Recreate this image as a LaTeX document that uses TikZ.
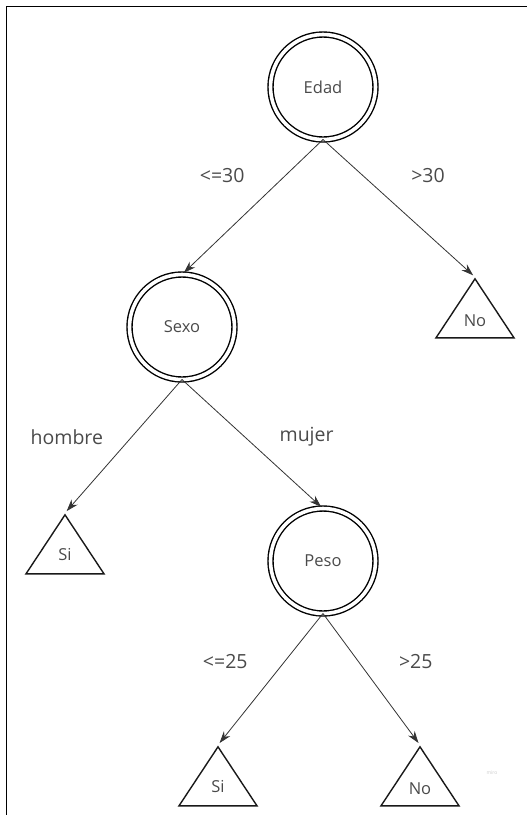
\documentclass[tikz,border=0pt]{standalone}
\usepackage{fontspec}
\setmainfont{Open Sans}
\usetikzlibrary{shapes.geometric, arrows.meta}

\definecolor{edgegray}{HTML}{333333}
\definecolor{textgray}{HTML}{4A4A4A}

\begin{document}
\begin{tikzpicture}[x=10pt, y=-10pt]
\tikzstyle{decision}=[circle, draw=black, line width=1.4pt, double=white, double distance=3.6pt, minimum size=105pt, inner sep=0pt, outer sep=0pt, text=textgray, font=\fontsize{16.5}{18}\selectfont];
\tikzstyle{leaf}=[isosceles triangle, shape border rotate=90, isosceles triangle stretches, draw=black!90, line width=1.4pt, minimum width=78pt, minimum height=59pt, inner sep=0pt, anchor=apex, text=textgray, font=\fontsize{16.5}{18}\selectfont];
\tikzstyle{cond}=[text=textgray, font=\fontsize{19.5}{21}\selectfont];
\tikzstyle{arrow}=[-{Stealth[length=12pt, width=8pt]}, draw=edgegray, line width=0.8pt, shorten >=2.5pt]

\useasboundingbox (0,0) rectangle (52.7,81.5);
\draw[line width=1.4pt] (52.7,0.65) -- (0.65,0.65) -- (0.65,81.5);

\node [decision] at (32.3,8.7) (Edad) {Edad};
\node [decision] at (18.2,32.7) (Sexo) {Sexo};
\node [decision] at (32.3,56.1) (Peso) {Peso};
\node [leaf] at (47.5,27.7) (No mayor) {No};
\node [leaf] at (6.5,51.3) (Si hombre) {Si};
\node [leaf] at (21.8,74.5) (Si ligero) {Si};
\node [leaf] at (42.0,74.5) (No pesado) {No};

\draw[arrow] (Edad.south) -- node[cond, pos=.268, xshift=-63pt] {<=30} (Sexo.north);
\draw[arrow] (Edad.south) -- node[cond, pos=.263, xshift=65pt] {>30} (No mayor.apex);

\draw[arrow] (Sexo.south) -- node[cond, pos=.429, xshift=-65pt] {hombre} (Si hombre.apex);
\draw[arrow] (Sexo.south) -- node[cond, pos=.444, xshift=62pt] {mujer} (Peso.north);

\draw[arrow] (Peso.south) -- node[cond, pos=.369, xshift=-59pt] {<=25} (Si ligero.apex);
\draw[arrow] (Peso.south) -- node[cond, pos=.369, xshift=57pt] {>25} (No pesado.apex);

\node [text=black!20, font=\fontsize{5}{6}\selectfont] at (49.2,77.3) (miro) {miro};

\end{tikzpicture}
\end{document}
